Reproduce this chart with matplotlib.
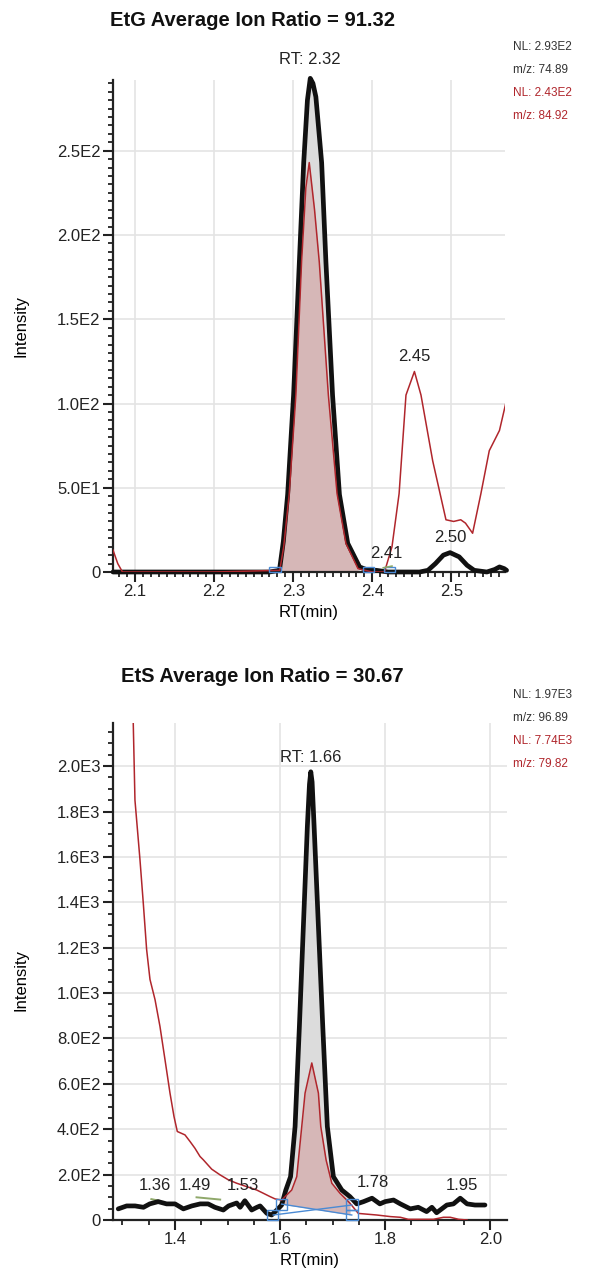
import numpy as np
import matplotlib
matplotlib.use("Agg")
import matplotlib.pyplot as plt
from matplotlib.patches import Rectangle
from matplotlib.ticker import MultipleLocator, FixedLocator

plt.rcParams["font.family"] = ["Liberation Sans", "DejaVu Sans"]

# ---------------------------------------------------------------------------
# EtG chromatogram (top)
# ---------------------------------------------------------------------------
etg_black_x = [2.072, 2.10, 2.20, 2.27, 2.2826, 2.2875, 2.293, 2.3005, 2.3078, 2.3133,
               2.318, 2.3216, 2.325, 2.3287, 2.336, 2.3414, 2.3498, 2.3585, 2.369, 2.384,
               2.395, 2.405, 2.42, 2.46, 2.4705, 2.48, 2.49, 2.4985, 2.51, 2.52, 2.529,
               2.545, 2.555, 2.561, 2.567, 2.570]
etg_black_y = [0, 0, 0, 0, 1, 18, 46, 105, 184, 243,
               280, 293, 290, 282, 243, 184, 105, 46, 17, 3,
               1, 1, 0, 0, 1, 5, 10, 11.5, 9, 4, 1,
               0, 1.5, 3, 2, 1]
etg_red_x = [2.072, 2.078, 2.084, 2.20, 2.283, 2.288, 2.295, 2.3034, 2.3106, 2.316, 2.3203,
             2.327, 2.333, 2.3445, 2.3555, 2.3667, 2.382, 2.40, 2.4155, 2.425, 2.434,
             2.4427, 2.4534, 2.4617, 2.4765, 2.4933, 2.503, 2.512, 2.518, 2.527,
             2.5375, 2.5481, 2.561, 2.5714]
etg_red_y = [13, 5, 0, 0, 1, 15, 46.5, 105, 184, 228, 243,
             215, 184, 105, 46.5, 17, 2, 0, 0, 15, 46.5,
             105, 119, 105, 66, 31, 30, 31, 29, 23,
             46.5, 72, 84, 105]
etg_peak = (2.28, 2.385)
etg_boxes_x = [2.277, 2.395, 2.422]
etg_labels = [("RT: 2.32", 2.3216, 304), ("2.45", 2.4534, 128),
              ("2.41", 2.4174, 11), ("2.50", 2.4985, 20.5)]
etg_yticks = [0, 50, 100, 150, 200, 250]
etg_yticklabels = ["0", "5.0E1", "1.0E2", "1.5E2", "2.0E2", "2.5E2"]
etg_xticks = [2.1, 2.2, 2.3, 2.4, 2.5]
etg_nl = ["NL: 2.93E2", "m/z: 74.89", "NL: 2.43E2", "m/z: 84.92"]

# ---------------------------------------------------------------------------
# EtS chromatogram (bottom)
# ---------------------------------------------------------------------------
ets_black_x = [1.292, 1.308, 1.324, 1.340, 1.352, 1.368, 1.384, 1.400, 1.416, 1.432,
               1.448, 1.463, 1.476, 1.492, 1.502, 1.5175, 1.524, 1.533, 1.546, 1.556,
               1.562, 1.575, 1.584, 1.594, 1.603, 1.611, 1.620, 1.6286, 1.6368, 1.6444,
               1.652, 1.656, 1.6585, 1.661, 1.6648, 1.673, 1.6813, 1.690, 1.7015, 1.7175,
               1.733, 1.746, 1.759, 1.775, 1.790, 1.800, 1.816, 1.829, 1.848, 1.863,
               1.879, 1.889, 1.898, 1.9175, 1.930, 1.943, 1.956, 1.971, 1.990]
ets_black_y = [49, 62, 62, 56, 71, 81, 71, 71, 49, 62,
               71, 71, 56, 44, 62, 75, 56, 85, 44, 56,
               62, 29, 22, 44, 66, 132, 191, 412, 853, 1295,
               1736, 1920, 1975, 1930, 1736, 1295, 853, 412, 191, 132,
               103, 71, 81, 96, 71, 81, 88, 71, 49, 56,
               37, 56, 32, 66, 71, 96, 71, 66, 66]
ets_red_x = [1.3195, 1.3238, 1.3333, 1.3396, 1.346, 1.3524, 1.362, 1.3714, 1.381, 1.3905,
             1.3981, 1.4044, 1.419, 1.4286, 1.438, 1.4476, 1.454, 1.4699, 1.4857, 1.5016,
             1.5175, 1.5365, 1.5556, 1.568, 1.581, 1.5905, 1.603, 1.6222, 1.6318, 1.6413,
             1.6476, 1.6604, 1.673, 1.6775, 1.6876, 1.6985, 1.714, 1.733, 1.749, 1.784,
             1.81, 1.829, 1.844, 1.892, 1.911, 1.924, 1.94, 1.956]
ets_red_y = [2300, 1850, 1589, 1398, 1192, 1060, 971, 853, 706, 559,
             456, 390, 375, 346, 316, 280, 265, 224, 199, 177,
             162, 147, 132, 118, 103, 93, 88, 132, 191, 412,
             559, 692, 559, 412, 265, 162, 118, 74, 29, 22,
             15, 12, 3, 3, 12, 12, 3, 0]
ets_base_a = ([1.603, 1.7365], [70, 22])
ets_base_b = ([1.587, 1.7365], [22, 66])
ets_boxes = [(1.603, 70), (1.586, 22), (1.7365, 68), (1.7365, 22)]
ets_labels = [("RT: 1.66", 1.6585, 2040), ("1.36", 1.362, 150), ("1.49", 1.438, 150),
              ("1.53", 1.530, 150), ("1.78", 1.777, 165), ("1.95", 1.946, 150)]
ets_green = [([1.355, 1.368], [92, 86]), ([1.441, 1.486], [100, 90])]
ets_yticks = list(range(0, 2001, 200))
ets_yticklabels = ["0", "2.0E2", "4.0E2", "6.0E2", "8.0E2", "1.0E3",
                   "1.2E3", "1.4E3", "1.6E3", "1.8E3", "2.0E3"]
ets_xticks = [1.4, 1.6, 1.8, 2.0]
ets_nl = ["NL: 1.97E3", "m/z: 96.89", "NL: 7.74E3", "m/z: 79.82"]

W, H = 592, 1275
BLACK = "#111111"
RED = "#b0262c"
BLUE = "#4a8ad4"
GRID = "#e4e4e4"

fig = plt.figure(figsize=(W / 100, H / 100), dpi=100)


def axes_px(left, top, right, bottom):
    return fig.add_axes([left / W, 1 - bottom / H, (right - left) / W, (bottom - top) / H])


def style(ax, xticks, yticks, ylabels, xminor, yminor):
    for s in ("top", "right"):
        ax.spines[s].set_visible(False)
    for s in ("left", "bottom"):
        ax.spines[s].set_linewidth(1.6)
        ax.spines[s].set_color("#222222")
    ax.xaxis.set_major_locator(FixedLocator(xticks))
    ax.xaxis.set_minor_locator(MultipleLocator(xminor))
    ax.set_yticks(yticks)
    ax.set_yticklabels(ylabels)
    ax.yaxis.set_minor_locator(MultipleLocator(yminor))
    ax.tick_params(which="major", length=7, width=1.5, labelsize=12, colors="#222222", pad=2)
    ax.tick_params(which="minor", length=3.5, width=1.3, colors="#222222")
    ax.grid(True, which="major", color=GRID, lw=1.2)
    ax.set_axisbelow(True)


def fill_span(ax, x, y, lo, hi, base_x, base_y, color):
    x = np.array(x); y = np.array(y)
    m = (x >= lo) & (x <= hi)
    base = np.interp(x[m], base_x, base_y)
    ax.fill_between(x[m], base, y[m], color=color, lw=0, zorder=2)


# ---------------- top panel ----------------
ax1 = axes_px(113, 80, 505, 572)
ax1.set_xlim(2.072, 2.568)
ax1.set_ylim(0, 292)
style(ax1, etg_xticks, etg_yticks, etg_yticklabels, 0.01, 5)
ax1.set_xticklabels([f"{t:.1f}" for t in etg_xticks])

fill_span(ax1, etg_black_x, etg_black_y, *etg_peak, [0, 3], [0, 0], "#dcdcdc")
fill_span(ax1, etg_red_x, etg_red_y, *etg_peak, [0, 3], [0, 0], "#d6b7b7")
ax1.plot(etg_black_x, etg_black_y, color=BLACK, lw=3.4, solid_joinstyle="round",
         solid_capstyle="round", zorder=4, clip_on=False)
ax1.plot(etg_red_x, etg_red_y, color=RED, lw=1.1, zorder=5)
for bx in etg_boxes_x:
    ax1.add_patch(Rectangle((bx - 0.007, 0), 0.014, 3, fill=False, ec=BLUE, lw=1.0,
                            zorder=6, clip_on=False))
ax1.plot([2.414, 2.425], [2.5, 3.5], color="#8fa86a", lw=1.2, zorder=6)
for txt, lx, ly in etg_labels:
    ax1.text(lx, ly, txt, ha="center", va="center", fontsize=12, color="#222222", zorder=7)

ax1.set_xlabel("RT(min)", fontsize=12, labelpad=4)

# ---------------- bottom panel ----------------
ax2 = axes_px(113, 723, 507, 1220)
ax2.set_xlim(1.282, 2.032)
ax2.set_ylim(0, 2190)
style(ax2, ets_xticks, ets_yticks, ets_yticklabels, 0.05, 50)
ax2.set_xticklabels([f"{t:.1f}" for t in ets_xticks])

fill_span(ax2, ets_black_x, ets_black_y, 1.603, 1.7365, *ets_base_a, "#dcdcdc")
fill_span(ax2, ets_red_x, ets_red_y, 1.603, 1.7365, *ets_base_a, "#d6b7b7")
ax2.plot(ets_black_x, ets_black_y, color=BLACK, lw=3.4, solid_joinstyle="round",
         solid_capstyle="round", zorder=4)
ax2.plot(ets_red_x, ets_red_y, color=RED, lw=1.1, zorder=5)
for bx, by in (ets_base_a, ets_base_b):
    ax2.plot(bx, by, color=BLUE, lw=1.0, zorder=6)
for bx, by in ets_boxes:
    ax2.add_patch(Rectangle((bx - 0.011, by - 24), 0.022, 48, fill=False, ec=BLUE, lw=1.0,
                            zorder=6, clip_on=False))
for gx, gy in ets_green:
    ax2.plot(gx, gy, color="#8fa86a", lw=1.4, zorder=3)
for txt, lx, ly in ets_labels:
    ax2.text(lx, ly, txt, ha="center", va="center", fontsize=12, color="#222222", zorder=7)

ax2.set_xlabel("RT(min)", fontsize=12, labelpad=4)

# ---------------- figure text ----------------
fig.text(252 / W, 1 - 21 / H, "EtG Average Ion Ratio = 91.32", ha="center", va="center",
         fontsize=14.5, fontweight="bold", color="#111111")
fig.text(262 / W, 1 - 677 / H, "EtS Average Ion Ratio = 30.67", ha="center", va="center",
         fontsize=14.5, fontweight="bold", color="#111111")

for y0, lines in ((47, etg_nl), (695, ets_nl)):
    for i, line in enumerate(lines):
        fig.text(513 / W, 1 - (y0 + 23 * i) / H, line, ha="left", va="center",
                 fontsize=8.5, color="#333333" if i < 2 else RED)

fig.text(21 / W, 1 - 326 / H, "Intensity", rotation=90, ha="center", va="center", fontsize=12)
fig.text(21 / W, 1 - 980 / H, "Intensity", rotation=90, ha="center", va="center", fontsize=12)

fig.savefig("out.png", dpi=100)
